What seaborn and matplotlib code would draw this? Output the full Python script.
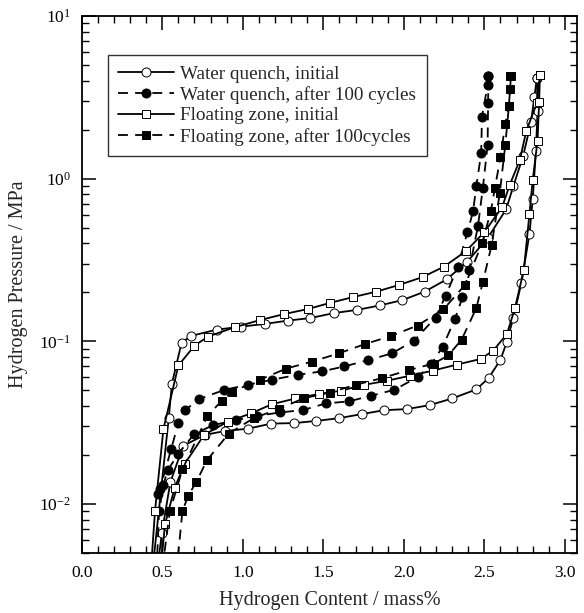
import numpy as np
import pandas as pd
import matplotlib
matplotlib.use("Agg")
import matplotlib.pyplot as plt
import seaborn as sns
from matplotlib.lines import Line2D
from matplotlib.ticker import LogLocator, MultipleLocator, NullFormatter

# =============================================================================
# DATA - hydrogen content [mass%], pressure [MPa]
# =============================================================================

# Water quench, initial
wq_init_abs_x = [0.44, 0.54, 0.56, 0.62, 0.68, 0.84, 0.99, 1.14, 1.28, 1.42, 1.565, 1.71, 1.85,
                 1.99, 2.13, 2.265, 2.39, 2.52, 2.635, 2.68, 2.74, 2.79, 2.81, 2.826]
wq_init_abs_y = [0.004, 0.0336, 0.055, 0.098, 0.108, 0.118, 0.123, 0.128, 0.134, 0.139, 0.149, 0.156,
                 0.166, 0.179, 0.202, 0.24, 0.306, 0.43, 0.647, 0.9, 1.37, 2.23, 3.16, 4.17]
wq_init_des_x = [2.826, 2.83, 2.82, 2.80, 2.78, 2.73, 2.68, 2.64, 2.60, 2.526, 2.45, 2.30, 2.16, 2.02,
                 1.877, 1.74, 1.60, 1.457, 1.317, 1.178, 1.03, 0.89, 0.766, 0.63, 0.55, 0.497, 0.47]
wq_init_des_y = [4.17, 2.6, 1.48, 0.745, 0.458, 0.229, 0.14, 0.0996, 0.077, 0.0594, 0.0506, 0.0445,
                 0.0405, 0.0383, 0.0377, 0.0357, 0.0337, 0.0324, 0.0314, 0.0312, 0.029, 0.0281,
                 0.0266, 0.0228, 0.0136, 0.0066, 0.004]

# Water quench, after 100 cycles
wq_100_abs_x = [0.475, 0.485, 0.555, 0.60, 0.642, 0.725, 0.886, 1.03, 1.18, 1.34, 1.49, 1.63, 1.78,
                1.926, 2.064, 2.197, 2.26, 2.334, 2.395, 2.43, 2.45, 2.48, 2.485, 2.52, 2.52]
wq_100_abs_y = [0.0115, 0.0123, 0.0217, 0.0316, 0.0377, 0.044, 0.0503, 0.054, 0.058, 0.0622, 0.0653,
                0.070, 0.0767, 0.0843, 0.101, 0.140, 0.191, 0.285, 0.47, 0.63, 0.9, 1.43, 2.4, 3.76, 4.27]
wq_100_des_x = [2.525, 2.523, 2.52, 2.49, 2.46, 2.406, 2.364, 2.317, 2.24, 2.17, 2.09, 1.94, 1.795,
                1.658, 1.515, 1.375, 1.23, 1.087, 0.957, 0.814, 0.697, 0.60, 0.534, 0.507, 0.48, 0.465]
wq_100_des_y = [4.27, 2.9, 1.6, 0.87, 0.51, 0.276, 0.186, 0.137, 0.092, 0.0725, 0.0605, 0.0503, 0.0462,
                0.0427, 0.0415, 0.0378, 0.0365, 0.0348, 0.0328, 0.0305, 0.0268, 0.0204, 0.0161,
                0.0131, 0.009, 0.004]

# Floating zone, initial
fz_init_abs_x = [0.43, 0.455, 0.507, 0.60, 0.70, 0.785, 0.95, 1.106, 1.257, 1.406, 1.54, 1.685, 1.83,
                 1.97, 2.116, 2.25, 2.385, 2.50, 2.61, 2.658, 2.72, 2.76, 2.825, 2.845]
fz_init_abs_y = [0.004, 0.0091, 0.0288, 0.071, 0.094, 0.107, 0.122, 0.135, 0.147, 0.158, 0.172, 0.187,
                 0.202, 0.222, 0.248, 0.288, 0.358, 0.469, 0.668, 0.918, 1.30, 1.96, 2.9, 4.33]
fz_init_des_x = [2.845, 2.84, 2.83, 2.80, 2.78, 2.745, 2.69, 2.64, 2.555, 2.476, 2.327, 2.18, 2.037,
                 1.896, 1.753, 1.61, 1.47, 1.327, 1.18, 1.05, 0.905, 0.76, 0.64, 0.577, 0.517, 0.49]
fz_init_des_y = [4.33, 2.97, 1.71, 0.98, 0.61, 0.275, 0.16, 0.111, 0.0876, 0.0778, 0.0718, 0.066,
                 0.0614, 0.0572, 0.054, 0.0497, 0.0474, 0.0445, 0.041, 0.036, 0.032, 0.0266, 0.0177,
                 0.0126, 0.0075, 0.004]

# Floating zone, after 100 cycles
fz_100_abs_x = [0.50, 0.547, 0.625, 0.78, 0.868, 0.934, 1.106, 1.27, 1.43, 1.596, 1.757, 1.923, 2.085,
                2.245, 2.38, 2.486, 2.54, 2.565, 2.60, 2.63, 2.65, 2.66, 2.66]
fz_100_abs_y = [0.004, 0.009, 0.0163, 0.0347, 0.043, 0.049, 0.058, 0.068, 0.075, 0.0843, 0.096, 0.108,
                0.125, 0.157, 0.222, 0.40, 0.63, 0.87, 1.36, 2.18, 2.78, 3.58, 4.27]
fz_100_des_x = [2.665, 2.652, 2.63, 2.596, 2.545, 2.49, 2.45, 2.358, 2.275, 2.186, 2.03, 1.865, 1.70,
                1.54, 1.38, 1.224, 1.068, 0.913, 0.778, 0.712, 0.66, 0.625, 0.59]
fz_100_des_y = [4.27, 2.78, 1.62, 0.82, 0.39, 0.23, 0.16, 0.102, 0.0818, 0.073, 0.0665, 0.0594, 0.054,
                0.0484, 0.0447, 0.0384, 0.0337, 0.0271, 0.0186, 0.0137, 0.0112, 0.009, 0.004]

labels = ["Water quench, initial", "Water quench, after 100 cycles",
          "Floating zone, initial", "Floating zone, after 100cycles"]

# =============================================================================
# LONG TABLE
# =============================================================================

branches = {
    labels[0]: [(wq_init_abs_x, wq_init_abs_y), (wq_init_des_x, wq_init_des_y)],
    labels[1]: [(wq_100_abs_x, wq_100_abs_y), (wq_100_des_x, wq_100_des_y)],
    labels[2]: [(fz_init_abs_x, fz_init_abs_y), (fz_init_des_x, fz_init_des_y)],
    labels[3]: [(fz_100_abs_x, fz_100_abs_y), (fz_100_des_x, fz_100_des_y)],
}
frames = []
for lab, pair in branches.items():
    for b, (bx, by) in zip(["abs", "des"], pair):
        frames.append(pd.DataFrame({"series": lab, "branch": b, "x": bx, "y": by}))
df = pd.concat(frames, ignore_index=True)

# marker / face / linestyle per series
DASH = (0, (5.5, 4))
styles = {
    labels[0]: ("o", "white", "-"),
    labels[1]: ("o", "black", DASH),
    labels[2]: ("s", "white", "-"),
    labels[3]: ("s", "black", DASH),
}

# =============================================================================
# PLOT
# =============================================================================

sns.set_theme(style="ticks")
plt.rcParams["font.family"] = ["Liberation Serif", "DejaVu Serif"]
plt.rcParams["mathtext.fontset"] = "custom"
plt.rcParams["mathtext.rm"] = "Liberation Serif"
plt.rcParams["axes.unicode_minus"] = False

fig = plt.figure(figsize=(5.84, 6.13), dpi=100)
ax = fig.add_axes([0.140, 0.098, 0.848, 0.876])

for (lab, b), g in df.groupby(["series", "branch"], sort=False):
    mk, face, ls = styles[lab]
    sns.lineplot(data=g, x="x", y="y", sort=False, estimator=None, ax=ax, legend=False,
                 color="black", lw=1.3, linestyle=ls, marker=mk, markersize=6.5 if mk == "o" else 5.8,
                 markerfacecolor=face, markeredgecolor="black", markeredgewidth=0.7)

ax.set_yscale("log")
ax.set_xlim(0, 3.075)
ax.set_ylim(5e-3, 10)
ax.xaxis.set_major_locator(MultipleLocator(0.5))
ax.xaxis.set_minor_locator(MultipleLocator(0.1))
ax.yaxis.set_major_locator(LogLocator(base=10))
ax.yaxis.set_minor_locator(LogLocator(base=10, subs=np.arange(2, 10)))
ax.yaxis.set_minor_formatter(NullFormatter())
ax.xaxis.set_major_formatter(plt.FuncFormatter(lambda v, p: f"{v:.1f}"))

ax.tick_params(which="both", direction="in", top=True, right=True, colors="black", labelsize=12.5)
ax.tick_params(which="major", length=10, width=1.1, pad=8)
ax.tick_params(which="minor", length=5, width=1.0)
ax.tick_params(axis="x", which="major", pad=9)
for s in ax.spines.values():
    s.set_linewidth(1.3)
    s.set_color("black")

ax.set_xlabel("Hydrogen Content / mass%", fontsize=14.5, labelpad=7)
ax.set_ylabel("Hydrogen Pressure / MPa", fontsize=14.5, labelpad=8)

handles = []
for lab in labels:
    mk, face, ls = styles[lab]
    handles.append(Line2D([], [], color="black", lw=1.3, linestyle=ls, marker=mk,
                          markersize=6.5 if mk == "o" else 5.8, markerfacecolor=face,
                          markeredgecolor="black", markeredgewidth=0.7))
leg = ax.legend(handles, labels, loc="upper left", bbox_to_anchor=(0.052, 0.928),
                borderaxespad=0, fontsize=13.8, handlelength=2.9, handletextpad=0.35,
                labelspacing=0.17, borderpad=0.55, frameon=True, fancybox=False)
leg.get_frame().set_edgecolor("black")
leg.get_frame().set_linewidth(1.0)

fig.savefig("out.png", dpi=100)
